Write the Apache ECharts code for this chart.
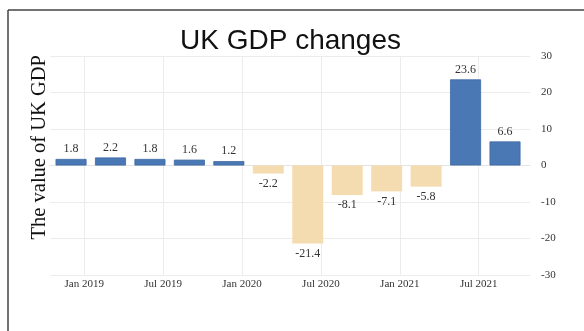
<!DOCTYPE html>
<html>
<head>
<meta charset="utf-8">
<script src="https://cdn.jsdelivr.net/npm/echarts@6/dist/echarts.min.js"></script>
<style>html,body{margin:0;padding:0;background:#fff;}#c{width:584px;height:331px;}</style>
</head>
<body>
<div id="c"></div>
<script>
const quarters = ["2018-12","2019-03","2019-06","2019-09","2019-12","2020-03","2020-06","2020-09","2020-12","2021-03","2021-06","2021-09"];
const gdpChange = [1.8, 2.2, 1.8, 1.6, 1.2, -2.2, -21.4, -8.1, -7.1, -5.8, 23.6, 6.6];
const xTickLabels = ["Jan 2019","Jul 2019","Jan 2020","Jul 2020","Jan 2021","Jul 2021"];
const yTicks = [-30, -20, -10, 0, 10, 20, 30];

const monNames = ["Jan","Feb","Mar","Apr","May","Jun","Jul","Aug","Sep","Oct","Nov","Dec"];
function monthIndex(s){ const p = s.split(/[- ]/); let y, m;
  if (p[0].length===4){ y=+p[0]; m=+p[1]-1; } else { m=monNames.indexOf(p[0]); y=+p[1]; }
  return (y-2019)*12 + m; }
const tickVals = xTickLabels.map(monthIndex);
const labelMap = {}; xTickLabels.forEach((t,i)=>labelMap[tickVals[i]]=t);

const POS = '#4a78b4', NEG = '#f5dcb0';
const data = quarters.map((q,i)=>({
  value:[monthIndex(q), gdpChange[i]],
  itemStyle: gdpChange[i]>=0 ? {color:POS, borderColor:'#3f6aa3', borderWidth:0.8} : {color:NEG},
  label:{position: gdpChange[i]>=0?'top':'bottom'}
}));

const chart = echarts.init(document.getElementById('c'), null, {renderer:'canvas'});
chart.setOption({
  backgroundColor:'#fff',
  animation:false,
  title:{text:'UK GDP changes', left:175, top:22,
    textStyle:{fontFamily:'Liberation Sans, Arial, sans-serif', fontSize:28, fontWeight:'normal', color:'#111'}},
  grid:{left:50, right:54, top:56, bottom:56},
  xAxis:{type:'value', min:-2.6, max:33.9,
    axisLine:{show:true, lineStyle:{color:'#e3e3e3'}},
    axisTick:{show:false, customValues:tickVals},
    axisLabel:{customValues:tickVals, formatter:v=>labelMap[Math.round(v)]||'', margin:4,
      fontFamily:'Liberation Serif, Times New Roman, serif', fontSize:11, color:'#333'},
    splitLine:{show:true, lineStyle:{color:'#ececec'}}
  },
  yAxis:{type:'value', position:'right', min:yTicks[0], max:yTicks[yTicks.length-1], interval:10,
    axisLine:{show:false}, axisTick:{show:false},
    axisLabel:{margin:11, fontFamily:'Liberation Serif, Times New Roman, serif', fontSize:11, color:'#333'},
    splitLine:{show:true, lineStyle:{color:'#ececec'}}
  },
  series:[{type:'bar', barWidth:31, data:data,
    label:{show:true, formatter:p=>p.value[1].toFixed(1), distance:4,
      fontFamily:'Liberation Serif, Times New Roman, serif', fontSize:12, color:'#333'}}],
  graphic:[
    {type:'text', left:29, top:55, rotation:Math.PI/2, style:{text:'The value of UK GDP', x:0, y:0,
      font:'20.5px "Liberation Serif", "Times New Roman", serif', fill:'#111'}},
    {type:'line', shape:{x1:8, y1:10, x2:584, y2:10}, style:{stroke:'#444', lineWidth:1.5}},
    {type:'line', shape:{x1:8, y1:10, x2:8, y2:331}, style:{stroke:'#444', lineWidth:1.5}}
  ]
});
</script>
</body>
</html>
